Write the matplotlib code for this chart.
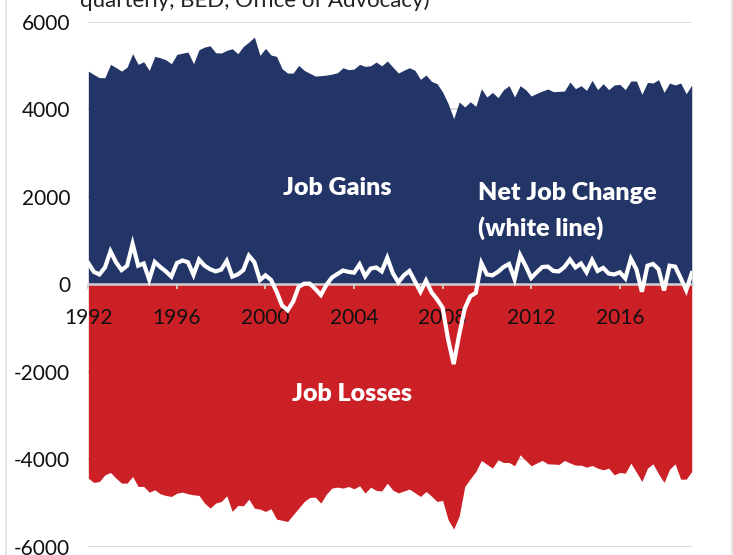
import numpy as np
import matplotlib
matplotlib.use('Agg')
import matplotlib.pyplot as plt
from matplotlib.lines import Line2D

# Job gains / losses / net change, thousands, quarterly from 1992Q1
start_year = 1992
gains = [
    4870, 4790, 4719, 4719, 5023, 4950, 4870, 4960, 5267, 5023,
    5084, 4885, 5205, 5175, 5129, 5038, 5251, 5280, 5305, 5038,
    5358, 5419, 5449, 5290, 5282, 5343, 5381, 5267, 5434, 5533,
    5647, 5228, 5389, 5236, 5205, 4923, 4824, 4824, 5000, 4885,
    4820, 4756, 4765, 4779, 4800, 4832, 4946, 4901, 4916, 5023,
    4977, 4992, 5076, 4990, 5100, 4962, 4824, 4890, 4946, 4886,
    4680, 4780, 4635, 4581, 4391, 4125, 3782, 4163, 4049, 4170,
    4064, 4467, 4277, 4384, 4262, 4445, 4536, 4277, 4536, 4445,
    4300, 4360, 4414, 4460, 4399, 4405, 4414, 4620, 4467, 4536,
    4430, 4658, 4445, 4581, 4445, 4551, 4566, 4445, 4643, 4643,
    4338, 4612, 4597, 4673, 4384, 4597, 4551, 4597, 4353, 4551,
]
losses = [
    -4437, -4536, -4513, -4361, -4307, -4437, -4551, -4551, -4399, -4627,
    -4627, -4757, -4703, -4795, -4833, -4856, -4779, -4757, -4795, -4818,
    -4833, -5008, -5122, -5008, -4970, -4840, -5198, -5061, -5069, -4916,
    -5122, -5145, -5198, -5137, -5373, -5400, -5427, -5274, -5122, -4970,
    -4878, -4871, -5008, -4802, -4665, -4642, -4665, -4627, -4680, -4612,
    -4779, -4642, -4718, -4730, -4551, -4710, -4775, -4730, -4688, -4770,
    -4856, -4741, -4850, -4970, -4947, -5388, -5601, -5300, -4627, -4450,
    -4285, -4033, -4120, -4209, -4018, -4079, -4079, -4155, -3904, -4030,
    -4155, -4090, -4033, -4110, -4115, -4125, -4033, -4090, -4140, -4140,
    -4186, -4148, -4209, -4247, -4209, -4361, -4307, -4323, -4094, -4300,
    -4513, -4209, -4110, -4338, -4536, -4231, -4110, -4460, -4460, -4285,
]
net = [
    480, 280, 220, 380, 750, 500, 320, 420, 920, 420,
    470, 100, 505, 390, 290, 170, 480, 540, 500, 210,
    560, 420, 340, 290, 330, 530, 170, 220, 320, 650,
    500, 90, 200, 95, -170, -490, -600, -400, -60, 10,
    10, -110, -250, -20, 150, 230, 310, 280, 260, 450,
    180, 355, 380, 290, 600, 250, 40, 200, 300, 60,
    -175, 80, -190, -350, -540, -1270, -1830, -1150, -560, -280,
    -200, 480, 220, 200, 280, 390, 460, 110, 660, 415,
    140, 270, 390, 400, 300, 290, 390, 560, 380, 470,
    270, 550, 300, 370, 240, 220, 270, 130, 580, 340,
    -175, 420, 460, 340, -145, 420, 400, 140, -140, 250,
]
year_ticks = [1992, 1996, 2000, 2004, 2008, 2012, 2016]
value_ticks = [-6000, -4000, -2000, 0, 2000, 4000, 6000]

NAVY = '#233466'
RED = '#cc2027'
GRID = '#d9d9d9'

plt.rcParams['font.family'] = ['Lato', 'DejaVu Sans']

x = start_year + np.arange(len(gains)) * 0.25

fig = plt.figure(figsize=(7.33, 5.55), dpi=100)
ax = fig.add_axes([0.1205, 0.0153, 0.9437 - 0.1205, 0.961 - 0.0153])

for v in value_ticks:
    if v != 0:
        ax.axhline(v, color=GRID, lw=1.3, zorder=0.5)

ax.fill_between(x, 0, gains, color=NAVY, lw=0, zorder=1)
ax.fill_between(x, 0, losses, color=RED, lw=0, zorder=1)
ax.plot(x, net, color='white', lw=3.0, zorder=3, solid_joinstyle='miter')

ax.set_xlim(x[0], x[-1])
ax.set_ylim(-6000, 6000)

for s in ['left', 'right', 'top']:
    ax.spines[s].set_visible(False)
ax.spines['bottom'].set_position(('data', 0))
ax.spines['bottom'].set_color('#d0d0d0')
ax.spines['bottom'].set_linewidth(1.8)

ax.set_xticks(year_ticks)
ax.set_xticklabels([str(y) for y in year_ticks])
ax.set_yticks(value_ticks)
ax.set_yticklabels([str(v) for v in value_ticks])
ax.tick_params(axis='x', length=3.5, width=1.3, color='#d0d0d0', pad=14,
               labelsize=15, labelcolor='#111111')
ax.tick_params(axis='y', length=0, pad=13, labelsize=15, labelcolor='#111111')

lbl = dict(color='white', fontsize=18, fontweight='heavy', va='center')
ax.text(2003.23, 2190, 'Job Gains', ha='center', **lbl)
ax.text(2009.6, 2078, 'Net Job Change', ha='left', **lbl)
ax.text(2009.6, 1280, '(white line)', ha='left', **lbl)
ax.text(2003.9, -2511, 'Job Losses', ha='center', **lbl)

fig.text(80 / 733, 1 - 7 / 555, 'quarterly, BED, Office of Advocacy)',
         fontsize=16, color='#222222', ha='left', va='baseline')

# page border lines
fig.add_artist(Line2D([6 / 733, 6 / 733], [0, 1], color='#e6e6e6', lw=1.5))
fig.add_artist(Line2D([731.5 / 733, 731.5 / 733], [0, 1], color='#e6e6e6', lw=1.5))

fig.savefig('out.png', dpi=100)
